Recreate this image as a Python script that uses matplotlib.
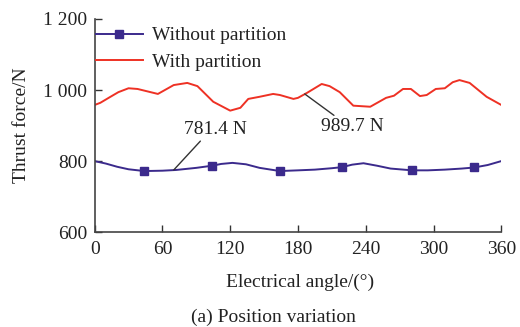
import matplotlib
matplotlib.use("Agg")
import matplotlib.pyplot as plt

plt.rcParams['font.family'] = ['Liberation Serif', 'DejaVu Serif']

# Data
red_x = [0, 5, 14, 21, 30, 38, 56, 70, 82, 91, 105, 120, 129, 136, 146, 158, 164, 176,
         180, 188, 201, 208, 217, 229, 244, 258, 265, 273, 280, 288, 294, 302, 310, 317,
         323, 332, 347, 360]
red_y = [958, 964, 981, 994, 1005, 1003, 989, 1014, 1020, 1011, 967, 942, 950, 975, 981,
         989, 986, 975, 978, 992, 1017, 1011, 994, 956, 953, 978, 984, 1003, 1003, 983,
         986, 1003, 1005, 1022, 1028, 1020, 981, 958]

blue_x = [0, 10, 20, 30, 44, 60, 72, 90, 104, 112, 122, 134, 146, 164, 180, 195, 210,
          219, 228, 238, 250, 262, 281, 295, 310, 325, 336, 348, 360]
blue_y = [800, 793, 784, 777, 772, 773, 775, 781, 787, 792, 795, 791, 781, 772, 774, 776,
          780, 783, 790, 794, 787, 779, 774, 774, 776, 779, 782, 789, 800]
blue_marks = [4, 8, 13, 17, 22, 26]

series_labels = ["Without partition", "With partition"]
x_ticks = [0, 60, 120, 180, 240, 300, 360]
y_ticks = [600, 800, 1000, 1200]
y_tick_labels = ["600", "800", "1 000", "1 200"]

blue = "#3b2a8c"
red = "#ee3124"
FS = 14

fig = plt.figure(figsize=(5.2, 3.27), dpi=100)
ax = fig.add_axes([0.182, 0.29, 0.782, 0.652])

ax.plot(blue_x, blue_y, color=blue, lw=1.4, marker='s', markersize=6,
        markevery=blue_marks, label=series_labels[0])
ax.plot(red_x, red_y, color=red, lw=1.4, label=series_labels[1])

ax.set_xlim(0, 360)
ax.set_ylim(600, 1200)
ax.set_xticks(x_ticks)
ax.set_yticks(y_ticks)
ax.set_yticklabels(y_tick_labels)
ax.tick_params(direction='in', length=5, width=1, labelsize=FS, colors='#333333',
               labelcolor='#222222')
ax.tick_params(axis='x', pad=6.5)
ax.tick_params(axis='y', pad=5.5)
for s in ['top', 'right']:
    ax.spines[s].set_visible(False)
for s in ['left', 'bottom']:
    ax.spines[s].set_color('#444444')
    ax.spines[s].set_linewidth(1.2)

ax.set_ylabel("Thrust force/N", fontsize=FS, color='#222222', labelpad=9)

leg = ax.legend(loc='upper left', frameon=False, fontsize=FS, handlelength=2.45,
                borderaxespad=0.0, borderpad=0.4, labelspacing=0.45, handletextpad=0.45,
                bbox_to_anchor=(-0.017, 1.0))
for t in leg.get_texts():
    t.set_color('#222222')

# Annotations
ax.annotate("781.4 N", xy=(70, 775), xytext=(107, 888), fontsize=FS, color='#222222',
            ha='center', va='center',
            arrowprops=dict(arrowstyle='-', color='#333333', lw=1,
                            shrinkA=0, shrinkB=0,
                            relpos=(0.3, 0.0)))
ax.annotate("989.7 N", xy=(186, 989), xytext=(228, 897), fontsize=FS, color='#222222',
            ha='center', va='center',
            arrowprops=dict(arrowstyle='-', color='#333333', lw=1,
                            shrinkA=0, shrinkB=0,
                            relpos=(0.27, 1.0)))

fig.text(0.577, 0.136, "Electrical angle/(\u00b0)", ha='center', va='center',
         fontsize=FS, color='#222222')
fig.text(0.525, 0.031, "(a) Position variation", ha='center', va='center',
         fontsize=FS, color='#222222')

fig.savefig("out.png", dpi=100)
